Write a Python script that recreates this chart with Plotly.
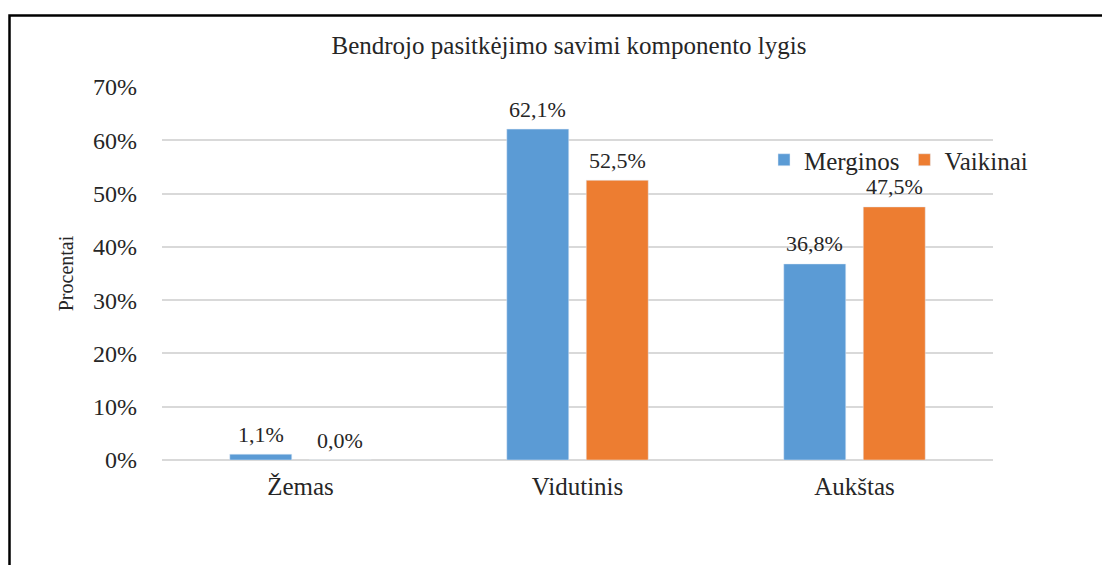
import plotly.graph_objects as go

categories = ["Žemas", "Vidutinis", "Aukštas"]
merginos = [1.1, 62.1, 36.8]
vaikinai = [0.0, 52.5, 47.5]
series_names = ["Merginos", "Vaikinai"]
colors = ["#5b9bd5", "#ed7d31"]
y_ticks = [0, 10, 20, 30, 40, 50, 60, 70]
title_text = "Bendrojo pasitkėjimo savimi komponento lygis"
y_title = "Procentai"

def fmt(v):
    return f"{v:.1f}".replace(".", ",") + "%"

FONT = "Liberation Serif"
TXT = "#262626"

# page has an 8px body margin: figure coordinates = reference - 8
W, H = 1102, 557
L, R, T, B = 154, 117, 79, 105
pw, ph = W - L - R, H - T - B
BARGAP = 0.426
cat_w = pw / len(categories)
slot = (1 - BARGAP) * cat_w / 2

fig = go.Figure()
for name, vals, col in zip(series_names, [merginos, vaikinai], colors):
    fig.add_bar(x=categories, y=vals, name=name, marker_color=col)

annotations = []
for k, vals in enumerate([merginos, vaikinai]):
    shift = (k - 0.5) * slot
    for c, v in zip(categories, vals):
        annotations.append(dict(x=c, y=v, xref="x", yref="y", text=fmt(v),
                                showarrow=False, xshift=shift, yshift=20,
                                yanchor="middle", xanchor="center",
                                font=dict(size=22, family=FONT, color=TXT)))

fig.update_layout(
    width=W, height=H,
    margin=dict(l=L, r=R, t=T, b=B),
    paper_bgcolor="white", plot_bgcolor="white",
    font=dict(family=FONT, color=TXT, size=20),
    barmode="group", bargap=BARGAP, bargroupgap=0.22,
    title=dict(text=title_text, x=561 / W, xref="container", xanchor="center",
               y=1 - 37 / H, yref="container", yanchor="middle",
               font=dict(size=25, family=FONT, color=TXT)),
    legend=dict(orientation="h", x=(756 - L) / pw, xanchor="left",
                y=(H - B - 152) / ph, yanchor="middle",
                font=dict(size=25, family=FONT, color=TXT),
                itemwidth=30, bgcolor="rgba(0,0,0,0)"),
    showlegend=True,
    annotations=annotations,
)
fig.update_xaxes(showgrid=False, showline=False, ticks="outside", ticklen=4,
                 tickcolor="rgba(0,0,0,0)", tickfont=dict(size=25, family=FONT, color=TXT))
fig.update_yaxes(range=[0, 70], tickvals=y_ticks, ticktext=[f"{v}%" for v in y_ticks],
                 showgrid=True, gridcolor="#d9d9d9", gridwidth=2,
                 zeroline=True, zerolinecolor="#d9d9d9", zerolinewidth=2,
                 showline=False, ticklabelstandoff=24,
                 tickfont=dict(size=24, family=FONT, color=TXT),
                 title=dict(text=y_title, standoff=14,
                            font=dict(size=20, family=FONT, color=TXT)))

# outer frame (top and left edges visible)
fig.add_shape(type="rect", xref="paper", yref="paper",
              x0=(1.5 - L) / pw, x1=(W + 50 - L) / pw,
              y0=(H - B - (H + 50)) / ph, y1=(H - B - 7.5) / ph,
              line=dict(color="black", width=2.5), fillcolor="rgba(0,0,0,0)", layer="above")

fig.write_html("out.html")
